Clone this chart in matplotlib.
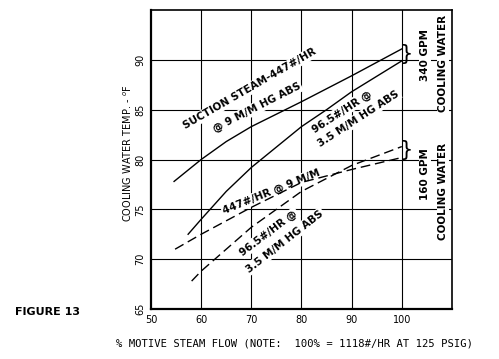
import numpy as np
import matplotlib
matplotlib.use("Agg")
import matplotlib.pyplot as plt

# values (x = % motive steam flow, y = cooling water temp F)
hi_447_x = [54.6, 60, 65, 70, 80, 90, 100]
hi_447_y = [77.8, 80.0, 81.8, 83.3, 85.8, 88.4, 91.1]

hi_965_x = [57.4, 60, 65, 70, 80, 85, 90, 100]
hi_965_y = [72.5, 74.0, 76.8, 79.2, 83.3, 85.0, 86.8, 89.9]

lo_447_x = [54.8, 60, 70, 80, 90, 100]
lo_447_y = [71.0, 72.5, 75.2, 77.7, 79.0, 80.2]

lo_965_x = [58.1, 60, 70, 80, 90, 100]
lo_965_y = [67.8, 68.8, 73.2, 76.8, 79.4, 81.3]

x_ticks = [50, 60, 70, 80, 90, 100]
y_ticks = [65, 70, 75, 80, 85, 90]

FONT = "DejaVu Sans"
WHITE = dict(facecolor="white", edgecolor="none", pad=0.8)

fig = plt.figure(figsize=(4.99, 3.59), dpi=100)
ax = fig.add_axes([0.3026, 0.1393, 0.6032, 0.8328])
ax.set_xlim(50, 110)
ax.set_ylim(65, 95)

# grid
for xv in x_ticks[1:]:
    ax.axvline(xv, color="black", lw=0.8, zorder=1)
for yv in y_ticks[1:]:
    ax.axhline(yv, color="black", lw=0.8, zorder=1)

for side in ["left", "bottom"]:
    ax.spines[side].set_linewidth(1.6)
for side in ["top", "right"]:
    ax.spines[side].set_linewidth(1.2)

ax.set_xticks(x_ticks)
ax.set_yticks(y_ticks)
ax.tick_params(length=0, labelsize=7, pad=4)
for lab in ax.get_yticklabels():
    lab.set_rotation(90)
    lab.set_va("center")

# curves
ax.plot(hi_447_x, hi_447_y, color="black", lw=1.0, zorder=3)
ax.plot(hi_965_x, hi_965_y, color="black", lw=1.0, zorder=3)
ax.plot(lo_447_x, lo_447_y, color="black", lw=1.0, ls=(0, (7, 3.5)), zorder=3)
ax.plot(lo_965_x, lo_965_y, color="black", lw=1.0, ls=(0, (7, 3.5)), zorder=3)

# curve labels
kw = dict(fontsize=7.5, fontweight="bold", ha="center", va="center",
          rotation_mode="anchor", bbox=WHITE, zorder=2, family=FONT)
ax.text(69.7, 87.1, "SUCTION STEAM-447#/HR", rotation=30, **kw)
ax.text(71.1, 85.2, "@ 9 M/M HG ABS", rotation=27, **kw)
ax.text(88.0, 84.8, "96.5#/HR @", rotation=33, **kw)
ax.text(91.4, 84.1, "3.5 M/M HG ABS", rotation=33, **kw)
ax.text(74.0, 76.75, "447#/HR @ 9 M/M", rotation=22, **kw)
ax.text(73.5, 72.65, "96.5#/HR @", rotation=37, **kw)
ax.text(76.7, 71.8, "3.5 M/M HG ABS", rotation=38, **kw)

# right side notes
rk = dict(fontsize=7.5, fontweight="bold", ha="center", va="center",
          rotation=90, bbox=WHITE, zorder=2, family=FONT)
ax.text(104.6, 90.5, "340 GPM", **rk)
ax.text(108.2, 89.6, "COOLING WATER", **rk)
ax.text(104.6, 78.5, "160 GPM", **rk)
ax.text(108.2, 76.8, "COOLING WATER", **rk)

# braces
ax.text(100.8, 90.55, "}", fontsize=15, ha="center", va="center", zorder=4, family=FONT)
ax.text(100.8, 81.0, "}", fontsize=15, ha="center", va="center", zorder=4, family=FONT)

ax.set_ylabel("COOLING WATER TEMP. - $^{o}$F", fontsize=7)
ax.yaxis.set_label_coords(-0.058, 0.52)

fig.text(0.591, 0.042, "% MOTIVE STEAM FLOW (NOTE:  100% = 1118#/HR AT 125 PSIG)",
         fontsize=7.6, family="DejaVu Sans Mono", ha="center", va="center")
fig.text(0.03, 0.13, "FIGURE 13", fontsize=8, fontweight="bold", ha="left", va="center")

fig.savefig("out.png", dpi=100)
